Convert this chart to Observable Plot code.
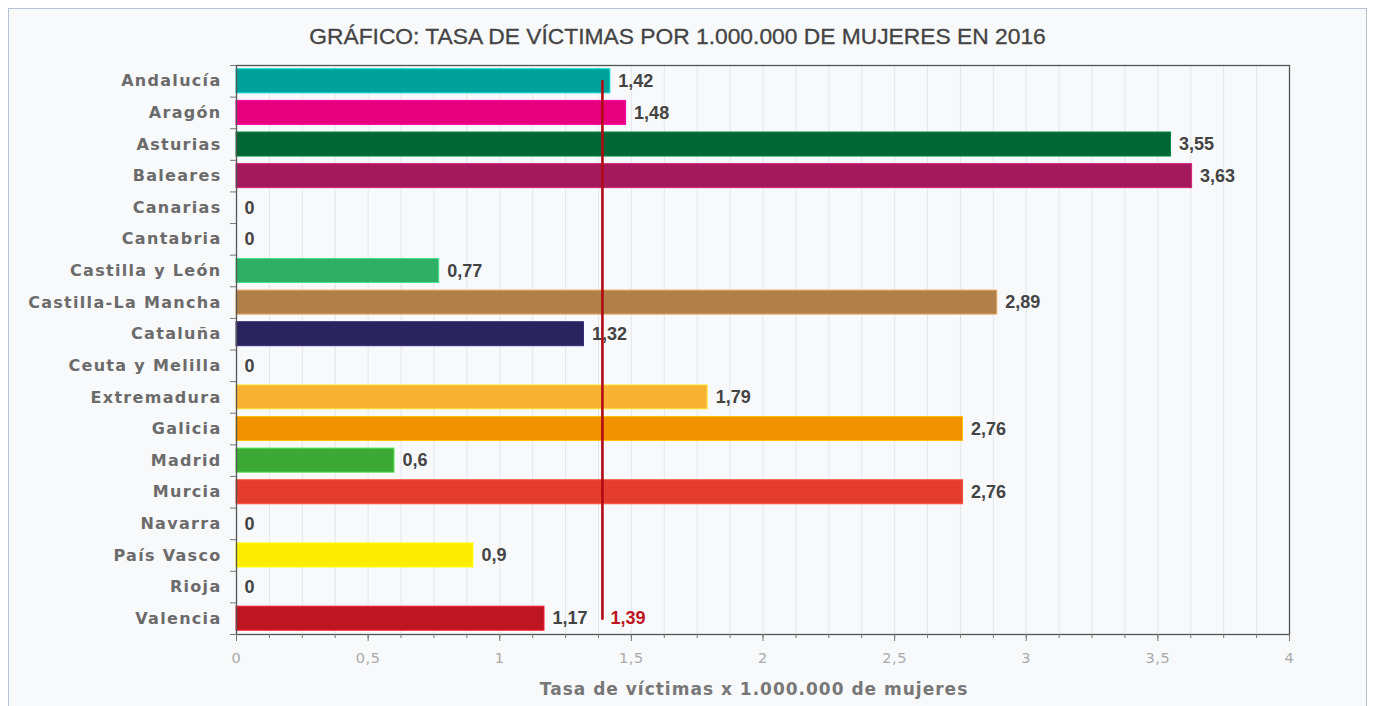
<!DOCTYPE html>
<html>
<head>
<meta charset="utf-8">
<script src="https://cdn.jsdelivr.net/npm/d3@7"></script>
<script src="https://cdn.jsdelivr.net/npm/@observablehq/plot@0.6"></script>
<style>
  html, body { margin: 0; padding: 0; background: #ffffff; width: 1375px; height: 706px; overflow: hidden; }
  #panel { position: absolute; left: 8px; top: 8px; width: 1359px; height: 720px; border: 1px solid #b4c2d2; background: #f8f9fb; box-sizing: border-box; }
  #title { position: absolute; left: 0; top: 23px; width: 1355px; text-align: center; font-family: "Liberation Sans", Arial, sans-serif; font-size: 22.8px; color: #444; -webkit-text-stroke: 0.3px #444; }
  #chart { position: absolute; left: 0; top: 0; }
  #chart svg { overflow: visible; }
</style>
</head>
<body>
<div id="panel"></div>
<div id="title">GRÁFICO: TASA DE VÍCTIMAS POR 1.000.000 DE MUJERES EN 2016</div>
<div id="chart"></div>
<script>
const categories = ["Andalucía","Aragón","Asturias","Baleares","Canarias","Cantabria","Castilla y León","Castilla-La Mancha","Cataluña","Ceuta y Melilla","Extremadura","Galicia","Madrid","Murcia","Navarra","País Vasco","Rioja","Valencia"];
const values = [1.42,1.48,3.55,3.63,0,0,0.77,2.89,1.32,0,1.79,2.76,0.6,2.76,0,0.9,0,1.17];
const colors = ["#00a19a","#e6007e","#006633","#a3195b","#00a19a","#00a19a","#2fae66","#b07f4a","#2a235e","#00a19a","#f9b233","#f39200","#3aaa35","#e43d30","#00a19a","#ffed00","#00a19a","#be1522"];
const average = 1.39;
const xTicks = [0,0.5,1,1.5,2,2.5,3,3.5,4];
const minorTicks = d3.range(0, 33).map(i => i * 0.125);
const xLabel = "Tasa de víctimas x 1.000.000 de mujeres";

const fmt = v => String(v).replace(".", ",");
const data = categories.map((name, i) => ({name, value: values[i], color: colors[i], edge: d3.color(colors[i]).brighter(0.8).formatHex()}));

const W = 1375, H = 706, mL = 236, mR = 86, mT = 65, mB = 72;
const step = (H - mT - mB) / categories.length;
const narrow = "'Liberation Sans Narrow', 'Arial Narrow', 'Liberation Sans', Arial, sans-serif";

const chart = Plot.plot({
  width: W, height: H,
  marginLeft: mL, marginRight: mR, marginTop: mT, marginBottom: mB,
  style: {background: "transparent", overflow: "visible"},
  x: {domain: [0, 4], axis: null},
  y: {domain: categories, paddingInner: 0.24, paddingOuter: 0.12, round: false, axis: null},
  color: {type: "identity"},
  marks: [
    Plot.gridX(minorTicks, {stroke: "#e4e6ea", strokeOpacity: 1}),
    Plot.barX(data, {x: "value", y: "name", fill: "color", stroke: "edge", strokeWidth: 1}),
    Plot.frame({stroke: "#555", strokeWidth: 1.3}),
    Plot.axisX({ticks: xTicks, tickSize: 7, tickPadding: 11, stroke: "#777", fill: "#aaa", fontSize: 14.5, fontFamily: "DejaVu Sans, sans-serif", tickFormat: fmt, label: null}),
    Plot.axisX({ticks: minorTicks, tickSize: 4, stroke: "#777", tickFormat: () => "", label: null}),
    Plot.axisY({ticks: categories, tickSize: 6, stroke: "#777", tickFormat: () => "", label: null, dy: -step / 2}),
    Plot.axisY({ticks: categories.slice(-1), tickSize: 6, stroke: "#777", tickFormat: () => "", label: null, dy: step / 2}),
    Plot.axisY({ticks: categories, tickSize: 0, tickPadding: 15, fill: "#6b6b6b", fontSize: 16, fontWeight: "bold", fontFamily: "DejaVu Sans, sans-serif", label: null}),
    Plot.text(data, {x: "value", y: "name", text: d => fmt(d.value), dx: 8, textAnchor: "start", fill: "#444", fontSize: 18, fontWeight: "bold", fontFamily: narrow}),
    Plot.line([{x: average, y: categories[0]}, {x: average, y: categories[categories.length - 1]}], {x: "x", y: "y", stroke: "#b00a14", strokeWidth: 2.6}),
    Plot.text([average], {x: d => d, y: () => categories[categories.length - 1], text: d => fmt(d), dx: 8, textAnchor: "start", fill: "#be1522", fontSize: 18, fontWeight: "bold", fontFamily: narrow}),
    Plot.text([xLabel], {text: d => d, frameAnchor: "bottom", dy: 60, dx: -9, fill: "#777", fontSize: 17, fontWeight: "bold", fontFamily: "DejaVu Sans, sans-serif"})
  ]
});
document.getElementById("chart").appendChild(chart);
d3.select(chart).selectAll("g[aria-label='y-axis tick label'] text").style("letter-spacing", "1.3px");
d3.select(chart).selectAll("g[aria-label='x-axis tick label'] text").style("letter-spacing", "0.6px");
d3.select(chart).selectAll("text").filter(function() { return this.textContent === xLabel; }).style("letter-spacing", "1px");
</script>
</body>
</html>
